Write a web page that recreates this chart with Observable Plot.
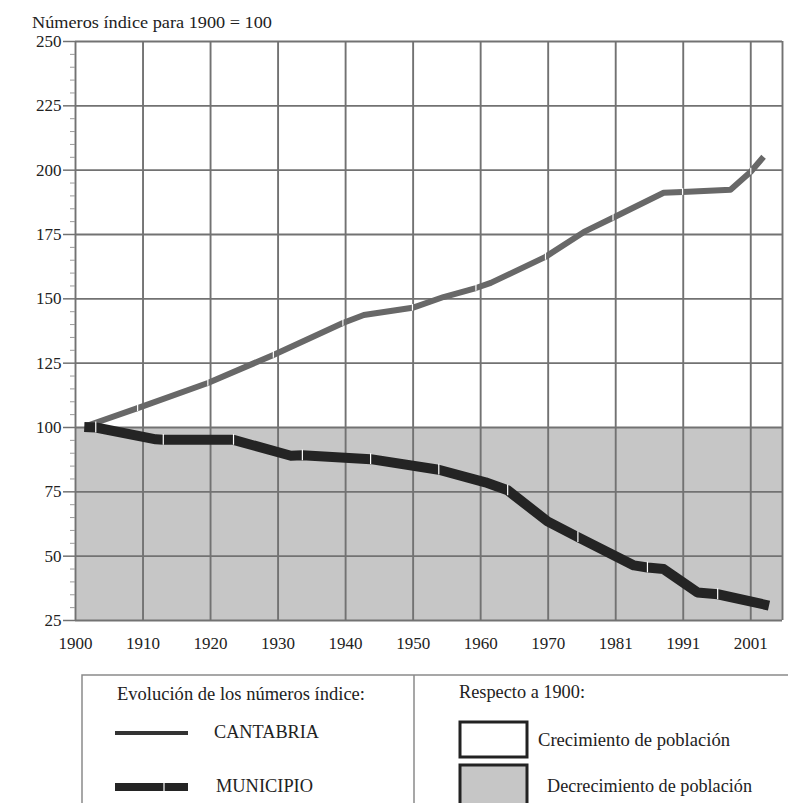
<!DOCTYPE html>
<html><head><meta charset="utf-8">
<script src="https://cdn.jsdelivr.net/npm/d3@7"></script>
<script src="https://cdn.jsdelivr.net/npm/@observablehq/plot@0.6"></script>
<style>
body{margin:0;background:#fff;}
#wrap{position:relative;width:788px;height:803px;overflow:hidden;}
#wrap svg{position:absolute;left:0;}
#wrap svg text{font-family:"Liberation Serif","DejaVu Serif",serif;}
</style></head><body><div id="wrap"></div>
<script>
// ---- text ----
const title = "Números índice para 1900 = 100";
const legendTitleLeft = "Evolución de los números índice:";
const legendTitleRight = "Respecto a 1900:";
const seriesNames = ["CANTABRIA", "MUNICIPIO"];
const areaNames = ["Crecimiento de población", "Decrecimiento de población"];

// ---- axes ----
const xLabels = ["1900","1910","1920","1930","1940","1950","1960","1970","1981","1991","2001"];
const yTicks = [25,50,75,100,125,150,175,200,225,250];
const yMinorTicks = [30,35,40,45,55,60,65,70,80,85,90,95,105,110,115,120,130,135,140,145,155,160,165,170,180,185,190,195,205,210,215,220,230,235,240,245];
const baseIndex = 100;
const xMax = 10.47;

// ---- series (x in census-interval units, value = index number) ----
const cantabriaPos = [0.15,0.92,1.96,2.93,3.96,4.27,4.99,5.45,5.93,6.15,6.96,7.53,7.96,8.71,8.99,9.70,10.0,10.19];
const cantabriaVal = [100.5,107.5,117.3,128.2,140.6,143.7,146.5,150.7,154.2,156.2,166.3,176.0,181.5,191.2,191.5,192.4,199.4,205.2];
const cantabriaBrk = [0,1,1,1,1,0,1,0,1,0,1,0,1,0,1,0,1,0];

const municipioPos = [0.13,0.30,1.19,1.30,2.34,3.19,3.36,4.37,5.38,6.07,6.40,6.99,7.44,8.27,8.47,8.71,9.21,9.51,10.27];
const municipioVal = [100.2,100.0,95.4,95.2,95.2,89.0,89.2,87.7,83.6,78.7,75.6,63.5,57.4,46.4,45.6,45.0,35.9,35.2,30.8];
const municipioBrk = [0,1,0,1,1,0,1,1,1,0,1,0,1,0,1,0,0,1,0];

const cantabria = cantabriaPos.map((p,i)=>({pos:p, val:cantabriaVal[i], brk:cantabriaBrk[i]}));
const municipio = municipioPos.map((p,i)=>({pos:p, val:municipioVal[i], brk:municipioBrk[i]}));
const xIdx = xLabels.map((d,i)=>i);

const serif = "Liberation Serif, DejaVu Serif, serif";
const gridColor = "#727272";

const chart = Plot.plot({
  width: 788, height: 660,
  marginLeft: 75, marginRight: 6, marginTop: 41, marginBottom: 40,
  x: {domain: [0, xMax]},
  y: {domain: [25, 250]},
  style: "font-family: Liberation Serif, serif; font-size: 17px; color: #222; background: transparent;",
  marks: [
    Plot.rect([{x1: 0, x2: xMax, y1: 25, y2: baseIndex}], {x1: "x1", x2: "x2", y1: "y1", y2: "y2", fill: "#c6c6c6"}),
    Plot.gridX(xIdx, {stroke: gridColor, strokeOpacity: 1, strokeWidth: 1.9}),
    Plot.gridY(yTicks, {stroke: gridColor, strokeOpacity: 1, strokeWidth: 1.9}),
    Plot.ruleX([xMax], {stroke: gridColor, strokeWidth: 1.9}),
    Plot.axisY(yMinorTicks, {tickSize: 5, tickFormat: () => "", stroke: "#9a9a9a", label: null}),
    Plot.axisY(yTicks, {tickSize: 12, tickPadding: 2, stroke: gridColor, strokeWidth: 1.5, fontSize: 17, fontFamily: serif, label: null}),
    Plot.axisX(xIdx, {tickFormat: i => xLabels[i], tickSize: 0, tickPadding: 16, fontSize: 17, fontFamily: serif, label: null}),
    Plot.line(cantabria, {x: "pos", y: "val", stroke: "#686868", strokeWidth: 6, strokeLinejoin: "round", strokeLinecap: "butt"}),
    Plot.line(municipio, {x: "pos", y: "val", stroke: "#242424", strokeWidth: 10, strokeLinejoin: "round", strokeLinecap: "butt"}),
    Plot.ruleX(cantabria.filter(d => d.brk), {x: "pos", y1: d => d.val - 1.3, y2: d => d.val + 1.3, stroke: "white", strokeWidth: 1.2}),
    Plot.ruleX(municipio.filter(d => d.brk), {x: "pos", y1: d => d.val - 2.1, y2: d => d.val + 2.1, stroke: "white", strokeWidth: 1.2})
  ]
});
chart.style.top = "0px";
d3.select(chart).append("text")
  .attr("x", 32).attr("y", 28).attr("text-anchor", "start")
  .attr("font-family", serif).attr("font-size", 17).attr("fill", "#222")
  .attr("textLength", 240).attr("lengthAdjust", "spacingAndGlyphs")
  .text(title);
document.getElementById("wrap").appendChild(chart);

// ---- legend ----
const leg = d3.create("svg").attr("width", 788).attr("height", 143)
  .style("top", "660px").attr("font-family", serif).attr("font-size", 19).attr("fill", "#222");
leg.append("path").attr("d", "M82,160V15H800").attr("fill", "none").attr("stroke", "#8a8a8a").attr("stroke-width", 1.5);
leg.append("line").attr("x1", 414).attr("x2", 414).attr("y1", 15).attr("y2", 160).attr("stroke", "#8a8a8a").attr("stroke-width", 1.5);
function txt(x, y, s, w) {
  leg.append("text").attr("x", x).attr("y", y).attr("textLength", w).attr("lengthAdjust", "spacingAndGlyphs").text(s);
}
txt(117, 40, legendTitleLeft, 248);
txt(459, 38, legendTitleRight, 126);
leg.append("line").attr("x1", 115).attr("x2", 188).attr("y1", 73).attr("y2", 73).attr("stroke", "#333").attr("stroke-width", 4);
txt(214, 78, seriesNames[0], 105);
leg.append("line").attr("x1", 115).attr("x2", 188).attr("y1", 127).attr("y2", 127).attr("stroke", "#242424").attr("stroke-width", 8);
leg.append("line").attr("x1", 164).attr("x2", 164).attr("y1", 122).attr("y2", 132).attr("stroke", "white").attr("stroke-width", 1.2);
txt(216, 132, seriesNames[1], 97);
leg.append("rect").attr("x", 460).attr("y", 62).attr("width", 67).attr("height", 35).attr("fill", "white").attr("stroke", "#222").attr("stroke-width", 3);
txt(538, 86, areaNames[0], 192);
leg.append("rect").attr("x", 460).attr("y", 105).attr("width", 67).attr("height", 50).attr("fill", "#c6c6c6").attr("stroke", "#222").attr("stroke-width", 3);
txt(547, 132, areaNames[1], 205);
document.getElementById("wrap").appendChild(leg.node());
</script></body></html>
